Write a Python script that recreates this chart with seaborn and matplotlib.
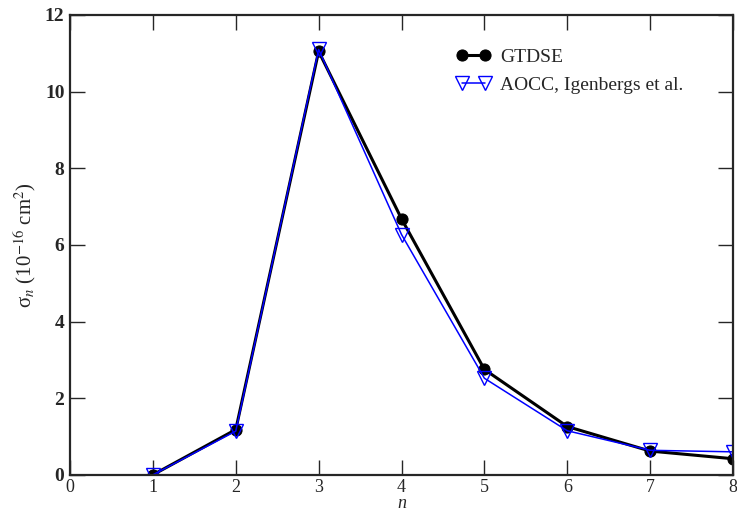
import matplotlib
matplotlib.use("Agg")
import matplotlib.pyplot as plt
import pandas as pd
import seaborn as sns

# ── Data ──────────────────────────────────────────────────────────────────────
n_levels = [1, 2, 3, 4, 5, 6, 7, 8]
gtdse = [0.0, 1.18, 11.05, 6.68, 2.75, 1.26, 0.62, 0.42]
aocc = [0.0, 1.14, 11.1, 6.27, 2.52, 1.15, 0.64, 0.60]

x_ticks = [0, 1, 2, 3, 4, 5, 6, 7, 8]
y_ticks = [0, 2, 4, 6, 8, 10, 12]

df_g = pd.DataFrame({"n": n_levels, "sigma": gtdse})
df_a = pd.DataFrame({"n": n_levels, "sigma": aocc})

sns.set_style("ticks")
plt.rcParams["font.family"] = ["Liberation Serif", "DejaVu Serif"]
plt.rcParams["mathtext.fontset"] = "stix"

fig = plt.figure(figsize=(7.37, 5.15), dpi=100)
ax = fig.add_axes([0.095, 0.078, 0.8996, 0.893])

sns.lineplot(data=df_g, x="n", y="sigma", ax=ax, color="black", lw=2.2,
             marker="o", markersize=8, markeredgecolor="black",
             label="GTDSE")
sns.lineplot(data=df_a, x="n", y="sigma", ax=ax, color="#0000ff", lw=1.1,
             marker="v", markersize=10, markerfacecolor="none",
             markeredgecolor="#0000ff", markeredgewidth=1.0,
             label="AOCC, Igenbergs et al.")

ax.set_xlim(0, 8)
ax.set_ylim(0, 12)
ax.set_xticks(x_ticks)
ax.set_yticks(y_ticks)
ax.tick_params(direction="in", length=11, width=1.0, top=True, right=True,
               labelsize=14, pad=4)
ax.tick_params(axis="x", labelsize=13, pad=3)
for lbl in ax.get_yticklabels():
    lbl.set_fontweight("bold")
for sp in ax.spines.values():
    sp.set_linewidth(1.6)

ax.set_xlabel("n", fontsize=13, fontstyle="italic")
ax.xaxis.set_label_coords(0.5, -0.044)
ax.set_ylabel(r"σ$_{n}$ (10$^{-16}$ cm$^{2}$)", fontsize=15)
ax.yaxis.set_label_coords(-0.048, 0.5)

leg = ax.legend(loc="upper left", bbox_to_anchor=(0.57, 0.945), frameon=False,
                fontsize=14, handlelength=1.8, handletextpad=0.5, numpoints=2,
                labelspacing=0.55, borderaxespad=0)

fig.savefig("out.png", dpi=100)
